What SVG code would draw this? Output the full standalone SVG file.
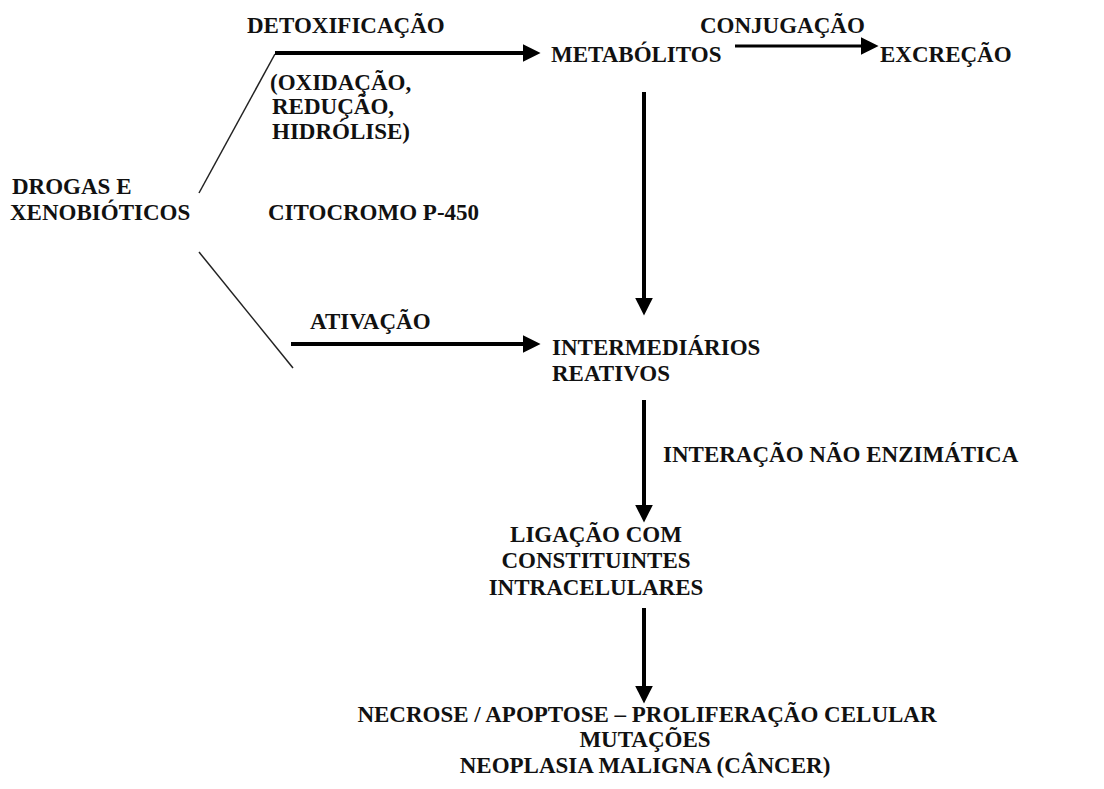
<svg xmlns="http://www.w3.org/2000/svg" width="1104" height="789" viewBox="0 0 1104 789">
<style>
text{font-family:'Liberation Serif','Times New Roman',serif;font-weight:bold;font-size:23px;fill:#111}
.c{text-anchor:middle}
.thick{stroke:#000;stroke-width:4;fill:none}
.med{stroke:#000;stroke-width:3;fill:none}
.thin{stroke:#222;stroke-width:1.5;fill:none}
</style>
<defs>
<marker id="ah" markerUnits="userSpaceOnUse" markerWidth="18" markerHeight="18" viewBox="0 0 17 17" refX="7" refY="8.5" orient="auto">
<path d="M0,0 L17,8.5 L0,17 z" fill="#000"/>
</marker>
</defs>
<g id="connectors">
<line class="thin" x1="275" y1="54" x2="199" y2="193"/>
<line class="thin" x1="199" y1="252" x2="293" y2="368"/>
<line class="thick" x1="275" y1="53" x2="530" y2="53" marker-end="url(#ah)"/>
<line class="med" x1="735" y1="46" x2="868" y2="46" marker-end="url(#ah)"/>
<line class="thick" x1="291" y1="344" x2="530" y2="344" marker-end="url(#ah)"/>
<line class="thick" x1="644" y1="92" x2="644" y2="305" marker-end="url(#ah)"/>
<line class="thick" x1="644" y1="400" x2="644" y2="512" marker-end="url(#ah)"/>
<line class="thick" x1="644" y1="608" x2="644" y2="693" marker-end="url(#ah)"/>
</g>
<g id="label-detox"><text x="247" y="33">DETOXIFICAÇÃO</text></g>
<g id="label-conj"><text x="700" y="33">CONJUGAÇÃO</text></g>
<g id="node-metabolitos"><text x="551" y="62">METABÓLITOS</text></g>
<g id="node-excrecao"><text x="880" y="62">EXCREÇÃO</text></g>
<g id="label-reacoes">
<text x="270" y="90">(OXIDAÇÃO,</text>
<text x="272" y="114">REDUÇÃO,</text>
<text x="272" y="139">HIDRÓLISE)</text>
</g>
<g id="node-drogas">
<text x="12" y="194">DROGAS E</text>
<text x="10" y="220">XENOBIÓTICOS</text>
</g>
<g id="label-citocromo"><text x="268" y="220">CITOCROMO P-450</text></g>
<g id="label-ativacao"><text x="310" y="329">ATIVAÇÃO</text></g>
<g id="node-intermediarios">
<text x="552" y="355">INTERMEDIÁRIOS</text>
<text x="552" y="381">REATIVOS</text>
</g>
<g id="label-interacao"><text x="663" y="462">INTERAÇÃO NÃO ENZIMÁTICA</text></g>
<g id="node-ligacao">
<text class="c" x="596" y="542">LIGAÇÃO COM</text>
<text class="c" x="596" y="568">CONSTITUINTES</text>
<text class="c" x="596" y="595">INTRACELULARES</text>
</g>
<g id="node-resultado">
<text class="c" x="647" y="722">NECROSE / APOPTOSE – PROLIFERAÇÃO CELULAR</text>
<text class="c" x="645" y="747">MUTAÇÕES</text>
<text class="c" x="645" y="773">NEOPLASIA MALIGNA (CÂNCER)</text>
</g>
</svg>
